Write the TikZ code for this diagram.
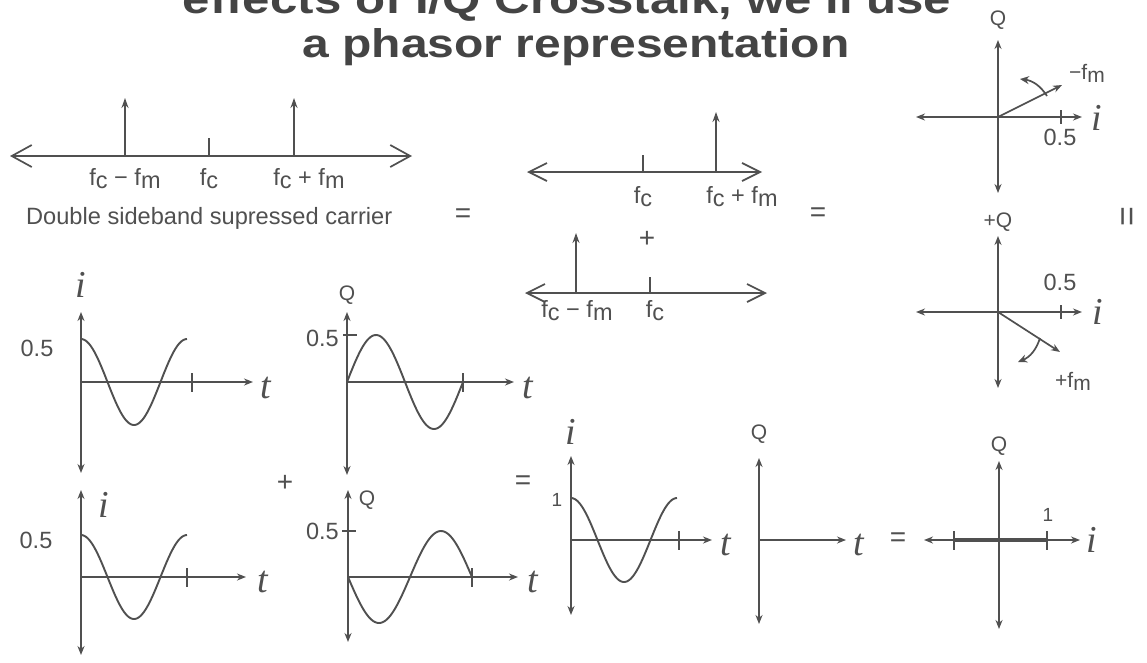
\documentclass[tikz,border=0pt]{standalone}
\usepackage{fontspec}
\setmainfont{Liberation Sans}
\newfontfamily\varfont{Liberation Serif}
\usetikzlibrary{arrows.meta,positioning,calc}
\definecolor{ink}{RGB}{80,80,80}
\definecolor{titlegray}{RGB}{68,68,68}
\newcommand{\fsub}[1]{f\raisebox{-3pt}{#1}}

\begin{document}
\begin{tikzpicture}[x=1pt, y=-1pt,
    ax/.style={draw=ink, line width=1.7pt},
    axarr/.style={ax, -{Stealth[length=9pt,width=7pt]}},
    axboth/.style={ax, {Stealth[length=9pt,width=7pt]}-{Stealth[length=9pt,width=7pt]}},
    freq/.style={ax, {Straight Barb[length=20pt,width=22pt]}-{Straight Barb[length=20pt,width=22pt]}},
    spike/.style={ax, -{Stealth[length=10pt,width=7pt]}},
    turn/.style={ax, -{Stealth[length=9pt,width=8pt]}},
    wave/.style={draw=ink, line width=1.9pt},
    lbl/.style={text=ink, font=\fontsize{23.5}{25}\selectfont, inner sep=1pt},
    sym/.style={text=ink, font=\varfont\itshape\fontsize{38}{40}\selectfont, inner sep=0pt},
    op/.style={text=ink, font=\fontsize{28}{30}\selectfont, inner sep=0pt},
    heading/.style={text=titlegray, anchor=base, font=\fontsize{40}{44}\bfseries\selectfont}
]
\useasboundingbox[fill=white] (0,0) rectangle (1147,662);

% title
\node[heading] (title1) at (567,13) {\scalebox{1.23}[1]{effects of I/Q Crosstalk, we'll use}};
\node[heading] (title2) at (576,57) {\scalebox{1.2}[1]{a phasor representation}};

% double sideband spectrum
\coordinate (s1l) at (10,156);
\coordinate (s1r) at (412,156);
\coordinate (s1lo) at (125,156);
\coordinate (s1lot) at (125,98);
\coordinate (s1c) at (209,156);
\coordinate (s1hi) at (294,156);
\coordinate (s1hit) at (294,98);
\draw[freq] (s1l) -- (s1r);
\draw[spike] (s1lo) -- (s1lot);
\draw[spike] (s1hi) -- (s1hit);
\draw[ax] (s1c) -- ++(0,-18);
\node[lbl] (s1lolbl) at (125,179) {\fsub{c} − \fsub{m}};
\node[lbl] (s1clbl) at (209,179) {\fsub{c}};
\node[lbl] (s1hilbl) at (309,179) {\fsub{c} + \fsub{m}};
\node[lbl, font=\fontsize{23.6}{25}\selectfont, anchor=west] (dsb) at (25,218) {Double sideband supressed carrier};
\node[op] (eq1) at (463,216) {=};

% upper sideband
\coordinate (s2l) at (527,172);
\coordinate (s2r) at (762,172);
\coordinate (s2c) at (643,172);
\coordinate (s2hi) at (716,172);
\coordinate (s2hit) at (716,112);
\draw[freq, {Straight Barb[length=18pt,width=18pt]}-{Straight Barb[length=18pt,width=18pt]}] (s2l) -- (s2r);
\draw[spike] (s2hi) -- (s2hit);
\draw[ax] (s2c) -- ++(0,-17);
\node[lbl] (s2clbl) at (643,197) {\fsub{c}};
\node[lbl] (s2hilbl) at (742,197) {\fsub{c} + \fsub{m}};
\node[op] (plus1) at (647,239) {+};

% lower sideband
\coordinate (s3l) at (525,293);
\coordinate (s3r) at (767,293);
\coordinate (s3lo) at (576,293);
\coordinate (s3lot) at (576,233);
\coordinate (s3c) at (650,293);
\draw[freq, {Straight Barb[length=18pt,width=18pt]}-{Straight Barb[length=18pt,width=18pt]}] (s3l) -- (s3r);
\draw[spike] (s3lo) -- (s3lot);
\draw[ax] (s3c) -- ++(0,-16);
\node[lbl] (s3lolbl) at (577,311) {\fsub{c} − \fsub{m}};
\node[lbl] (s3clbl) at (655,311) {\fsub{c}};
\node[op] (eq2) at (818,215) {=};

% phasor for -fm
\coordinate (p1o) at (998,117);
\coordinate (p1u) at (998,40);
\coordinate (p1d) at (998,193);
\coordinate (p1l) at (916,117);
\coordinate (p1r) at (1082,117);
\coordinate (p1v) at (1062,85);
\coordinate (p1a) at (1047,96);
\coordinate (p1b) at (1020,79);
\draw[axboth] (p1u) -- (p1d);
\draw[axboth] (p1l) -- (p1r);
\draw[ax] (1061,110) -- (1061,124);
\draw[axarr] (p1o) -- (p1v);
\draw[turn] (p1a) to[bend right=25] (p1b);
\node[lbl, font=\fontsize{21}{22}\selectfont] (p1q) at (998,20) {Q};
\node[sym] (p1i) at (1097,118) {i};
\node[lbl] (p1half) at (1060,137) {0.5};
\node[lbl, font=\fontsize{21}{22}\selectfont] (p1f) at (1087,73) {−\fsub{m}};

% phasor for +fm
\coordinate (p2o) at (998,312);
\coordinate (p2u) at (998,236);
\coordinate (p2d) at (998,388);
\coordinate (p2l) at (916,312);
\coordinate (p2r) at (1082,312);
\coordinate (p2v) at (1060,352);
\coordinate (p2a) at (1040,338);
\coordinate (p2b) at (1018,362);
\draw[axboth] (p2u) -- (p2d);
\draw[axboth] (p2l) -- (p2r);
\draw[ax] (1061,305) -- (1061,319);
\draw[axarr] (p2o) -- (p2v);
\draw[turn] (p2a) to[bend left=25] (p2b);
\node[lbl, font=\fontsize{21}{22}\selectfont] (p2q) at (998,222) {+Q};
\node[sym] (p2i) at (1098,312) {i};
\node[lbl] (p2half) at (1060,282) {0.5};
\node[lbl, font=\fontsize{21}{22}\selectfont] (p2f) at (1073,381) {+\fsub{m}};
\node[op, rotate=90, font=\fontsize{34}{36}\selectfont, text height=0.5em, text depth=0pt] (eq3) at (1136,217) {=};

% i(t) for -fm
\coordinate (w1o) at (81,382);
\coordinate (w1u) at (81,312);
\coordinate (w1d) at (81,473);
\coordinate (w1r) at (253,382);
\draw[axboth] (w1u) -- (w1d);
\draw[axarr] (w1o) -- (w1r);
\draw[ax] (192,373) -- (192,392);
\draw[wave] plot[domain=0:106, samples=80] ({81+\x},{382-43*cos(\x/106*360)});
\node[sym] (w1i) at (81,285) {i};
\node[sym] (w1t) at (266,388) {t};
\node[lbl] (w1half) at (37,348) {0.5};

% Q(t) for -fm
\coordinate (w2o) at (347,382);
\coordinate (w2u) at (347,312);
\coordinate (w2d) at (347,475);
\coordinate (w2r) at (514,382);
\draw[axboth] (w2u) -- (w2d);
\draw[axarr] (w2o) -- (w2r);
\draw[ax] (343,335) -- (357,335);
\draw[ax] (463,373) -- (463,392);
\draw[wave] plot[domain=0:116, samples=80] ({347+\x},{382-47*sin(\x/116*360)});
\node[lbl, font=\fontsize{21}{22}\selectfont] (w2q) at (347,295) {Q};
\node[sym] (w2t) at (528,388) {t};
\node[lbl, anchor=east] (w2half) at (340,338) {0.5};

\node[op] (plus2) at (285,483) {+};
\node[op] (eq4) at (523,483) {=};

% i(t) for +fm
\coordinate (w3o) at (81,577);
\coordinate (w3u) at (81,490);
\coordinate (w3d) at (81,655);
\coordinate (w3r) at (246,577);
\draw[axboth] (w3u) -- (w3d);
\draw[axarr] (w3o) -- (w3r);
\draw[ax] (187,568) -- (187,587);
\draw[wave] plot[domain=0:106, samples=80] ({81+\x},{577-42*cos(\x/106*360)});
\node[sym] (w3i) at (104,505) {i};
\node[sym] (w3t) at (263,582) {t};
\node[lbl] (w3half) at (36,540) {0.5};

% Q(t) for +fm
\coordinate (w4o) at (348,577);
\coordinate (w4u) at (348,490);
\coordinate (w4d) at (348,642);
\coordinate (w4r) at (518,577);
\draw[axboth] (w4u) -- (w4d);
\draw[axarr] (w4o) -- (w4r);
\draw[ax] (342,531) -- (356,531);
\draw[ax] (472,568) -- (472,587);
\draw[wave] plot[domain=0:124, samples=80] ({348+\x},{577+46*sin(\x/124*360)});
\node[lbl, font=\fontsize{21}{22}\selectfont] (w4q) at (367,500) {Q};
\node[sym] (w4t) at (533,582) {t};
\node[lbl, anchor=east] (w4half) at (340,531) {0.5};

% sum i(t)
\coordinate (w5o) at (571,540);
\coordinate (w5u) at (571,456);
\coordinate (w5d) at (571,615);
\coordinate (w5r) at (712,540);
\draw[axboth] (w5u) -- (w5d);
\draw[axarr] (w5o) -- (w5r);
\draw[ax] (679,531) -- (679,550);
\draw[wave] plot[domain=0:106, samples=80] ({571+\x},{540-42*cos(\x/106*360)});
\node[sym] (w5i) at (571,432) {i};
\node[sym] (w5t) at (726,545) {t};
\node[lbl, font=\fontsize{19}{20}\selectfont] (w5one) at (557,500) {1};

% sum Q(t)
\coordinate (w6o) at (759,540);
\coordinate (w6u) at (759,458);
\coordinate (w6d) at (759,624);
\coordinate (w6r) at (846,540);
\draw[axboth] (w6u) -- (w6d);
\draw[axarr] (w6o) -- (w6r);
\node[lbl, font=\fontsize{21}{22}\selectfont] (w6q) at (759,434) {Q};
\node[sym] (w6t) at (859,545) {t};
\node[op] (eq5) at (898,540) {=};

% resulting phasor
\coordinate (p3o) at (999,540);
\coordinate (p3u) at (999,461);
\coordinate (p3d) at (999,629);
\coordinate (p3l) at (924,540);
\coordinate (p3r) at (1080,540);
\coordinate (p3m) at (954,540);
\coordinate (p3p) at (1047,540);
\draw[axboth] (p3u) -- (p3d);
\draw[axboth] (p3l) -- (p3r);
\draw[ax, line width=3.4pt] (p3m) -- (p3p);
\draw[ax] (954,531) -- (954,550);
\draw[ax] (1047,531) -- (1047,550);
\node[lbl, font=\fontsize{21}{22}\selectfont] (p3q) at (999,446) {Q};
\node[sym] (p3i) at (1092,540) {i};
\node[lbl, font=\fontsize{19}{20}\selectfont] (p3one) at (1048,515) {1};
\end{tikzpicture}
\end{document}
